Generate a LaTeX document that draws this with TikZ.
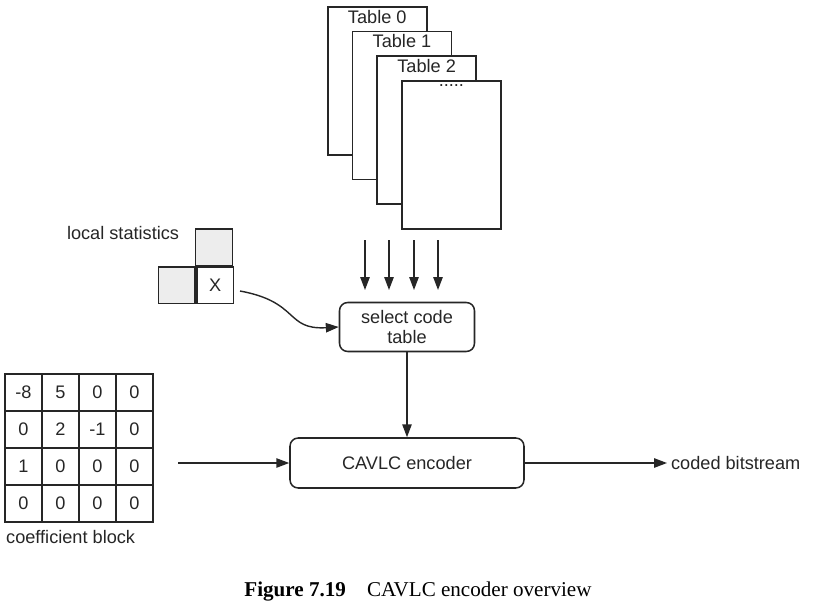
\documentclass[tikz,border=0pt]{standalone}
\usepackage{fontspec}
\setmainfont{Liberation Sans}
\newfontfamily\capfont{Liberation Serif}
\usetikzlibrary{arrows.meta, positioning}
\tikzstyle{box_style} = [rectangle, rounded corners=7pt, draw, line width=1.3pt, align=center, inner sep=0pt]
\tikzstyle{sheet_style} = [rectangle, draw, line width=1.3pt, fill=white, inner sep=0pt, minimum width=2.97cm, minimum height=4.44cm]
\tikzstyle{cell_style} = [rectangle, draw, line width=1.3pt, inner sep=0pt, minimum size=1.1cm]
\tikzstyle{arrow_style} = [line width=1.2pt, -{Triangle[length=11pt, width=8pt]}]
\newcommand\moredots{.....}
\begin{document}
\begin{tikzpicture}[x=0.03cm, y=-0.03cm, font=\fontsize{15.5}{17}\selectfont, text=black!85, draw=black!85]
	\useasboundingbox (0,0) rectangle (838,615);
	
	% 码表
	\foreach \i/\lab in {0/Table 0, 1/Table 1, 2/Table 2, 3/\moredots} {
		\node[sheet_style, anchor=north west] (table\i) at (327+24.7*\i, 6+24.7*\i) {};
		\node[below=0pt of table\i.north] {\lab};
	}
	
	% 选择码表
	\node[box_style, minimum width=4.05cm, minimum height=1.47cm] (select) at (407,327) {select code\\table};
	\foreach \x [count=\k] in {365,389,414,438} {
		\coordinate (tin\k) at (\x,240);
		\draw[arrow_style] (tin\k) -- (\x,290);
	}
	
	% 局部统计
	\node[cell_style, fill=black!7] (up) at (214,247.5) {};
	\node[cell_style, fill=black!7, anchor=north east] (left) at (196,266) {};
	\node[cell_style, anchor=north west] (cur) at (196,266) {X};
	\node[left=10pt of up.west, anchor=east, yshift=12pt] {local statistics};
	\coordinate (stat) at (240,291);
	\draw[arrow_style] (stat) .. controls (300,302) and (285,330) .. (select.west);
	
	% 编码器
	\node[box_style, minimum width=7.02cm, minimum height=1.5cm] (enc) at (407,463) {CAVLC encoder};
	\draw[arrow_style] (select.south) -- (enc.north);
	
	% 系数块
	\foreach \v [count=\n from 0] in {-8,5,0,0,0,2,-1,0,1,0,0,0,0,0,0,0} {
		\pgfmathtruncatemacro\r{int(\n/4)}
		\pgfmathtruncatemacro\c{mod(\n,4)}
		\node[cell_style] (c\r\c) at (23.5+37*\c, 392.5+37*\r) {\v};
	}
	\node[below right=3pt and -2pt of c30.south west] {coefficient block};
	\coordinate (blk) at (178,463);
	\draw[arrow_style] (blk) -- (enc.west);
	
	\node[anchor=west] (out) at (667,463) {coded bitstream};
	\draw[arrow_style] (enc.east) -- (out.west);
	
	\node[text=black] (cap) at (418,592) {\capfont\fontsize{18}{20}\selectfont\textbf{Figure 7.19}\quad CAVLC encoder overview};
\end{tikzpicture}
\end{document}
